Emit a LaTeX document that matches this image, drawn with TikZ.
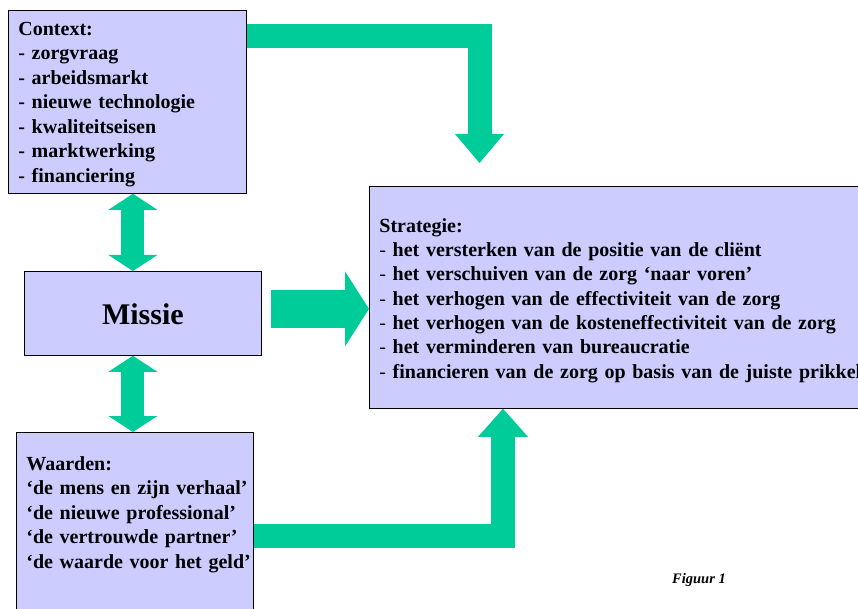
\documentclass[tikz,border=0pt]{standalone}
\usepackage{fontspec}
\setmainfont{Liberation Serif}
\usepackage{tikz}
\definecolor{lavender}{HTML}{CCCCFF}
\definecolor{green500}{HTML}{00CC99}
\usetikzlibrary{arrows.meta}
\tikzstyle{blok}=[draw=black, fill=lavender, line width=0.8pt, anchor=north west, inner xsep=10pt, inner ysep=0pt, align=left, font=\fontsize{20}{24.5}\selectfont\bfseries]
\tikzstyle{pijl}=[draw=green500, line width=24pt, line join=miter]

\begin{document}
\begin{tikzpicture}[x=1pt, y=-1pt]
	\useasboundingbox (0,0) rectangle (858,609);
	\clip (0,0) rectangle (858,609);
	% blokken
	\node[blok, text width=218pt, text height=25pt, text depth=158pt] (context) at (8,10)
		{Context:\\- zorgvraag\\- arbeidsmarkt\\- nieuwe technologie\\- kwaliteitseisen\\- marktwerking\\- financiering};
	\node[blok, align=center, text width=217pt, text height=53pt, text depth=31pt, font=\fontsize{30}{36}\selectfont\bfseries] (missie) at (24,271) {Missie};
	\node[blok, text width=217pt, text height=38pt, text depth=170pt] (waarden) at (16,432)
		{Waarden:\\\mbox{‘de mens en zijn verhaal’}\\\mbox{‘de nieuwe professional’}\\\mbox{‘de vertrouwde partner’}\\\mbox{‘de waarde voor het geld’}};
	\node[blok, text width=500pt, text height=46pt, text depth=176pt, font=\fontsize{20}{24.3}\selectfont] (strategie) at (369,186)
		{\textbf{Strategie:}\\
		- \textbf{het versterken van de positie van de cliënt}\\
		- \textbf{het verschuiven van de zorg ‘naar voren’}\\
		- \textbf{het verhogen van de effectiviteit van de zorg}\\
		- \textbf{het verhogen van de kosteneffectiviteit van de zorg}\\
		- \textbf{het verminderen van bureaucratie}\\
		- \textbf{financieren van de zorg op basis van de juiste prikkels}};
	\node[anchor=base west, inner sep=0pt, font=\fontsize{14.5}{17}\selectfont\bfseries\itshape] (figuur) at (672,583) {Figuur 1};
	% pijlen
	\draw[pijl, arrows={-Triangle[width=49pt,length=29pt,line width=0pt]}]
		([yshift=-26.5pt]context.north east) -| ([xshift=110.5pt,yshift=23pt]strategie.north west);
	\draw[pijl, line width=38pt, arrows={-Triangle[width=75pt,length=24pt,line width=0pt]}]
		([xshift=9pt,yshift=4.5pt]missie.east) coordinate (m1) -- (m1 -| strategie.west);
	\draw[pijl, arrows={-Triangle[width=50pt,length=28pt,line width=0pt]}]
		(waarden.east) -| ([xshift=134pt]strategie.south west);
	\draw[pijl, line width=23pt, arrows={Triangle[width=49pt,length=16pt,line width=0pt]-Triangle[width=49pt,length=16pt,line width=0pt]}]
		([xshift=5.5pt]context.south) coordinate (c1) -- (c1 |- missie.north);
	\draw[pijl, line width=23pt, arrows={Triangle[width=49pt,length=16pt,line width=0pt]-Triangle[width=49pt,length=16pt,line width=0pt]}]
		([xshift=-10pt]missie.south) coordinate (c2) -- (c2 |- waarden.north);
\end{tikzpicture}
\end{document}
